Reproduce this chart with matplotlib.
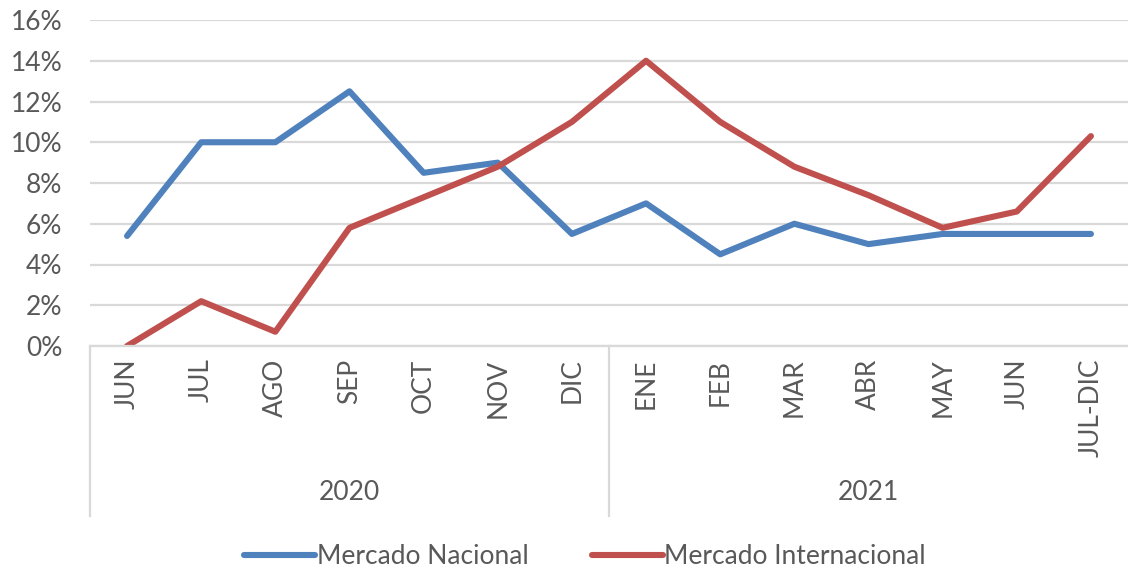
import matplotlib.pyplot as plt
from matplotlib.ticker import FuncFormatter
import matplotlib.transforms as mtransforms

# datos
meses = ["JUN", "JUL", "AGO", "SEP", "OCT", "NOV", "DIC",
         "ENE", "FEB", "MAR", "ABR", "MAY", "JUN", "JUL-DIC"]
anios = ["2020", "2021"]
meses_por_anio = [7, 7]
nacional = [5.4, 10.0, 10.0, 12.5, 8.5, 9.0, 5.5, 7.0, 4.5, 6.0, 5.0, 5.5, 5.5, 5.5]
internacional = [0.0, 2.2, 0.7, 5.8, 7.3, 8.8, 11.0, 14.0, 11.0, 8.8, 7.4, 5.8, 6.6, 10.3]

plt.rcParams['font.family'] = ['Lato', 'DejaVu Sans']
gris = '#595959'
fs = 19

fig = plt.figure(figsize=(11.28, 5.72), dpi=100)
ax = fig.add_axes([90/1128, 1-346/572, 1038/1128, 326/572])

x = list(range(len(meses)))
ax.plot(x, nacional, color='#4F81BD', lw=4.4, solid_capstyle='round', label='Mercado Nacional', clip_on=False)
ax.plot(x, internacional, color='#C0504D', lw=4.4, solid_capstyle='round', label='Mercado Internacional')

ax.set_ylim(0, 16)
ax.set_xlim(-0.5, len(meses) - 0.5)
ax.set_yticks(range(0, 17, 2))
ax.yaxis.set_major_formatter(FuncFormatter(lambda v, p: f"{int(v)}%"))
ax.tick_params(axis='y', length=0, pad=20, labelsize=fs, labelcolor=gris)
ax.grid(axis='y', color='#D9D9D9', lw=1.6)
ax.set_axisbelow(True)
for s in ax.spines.values():
    s.set_visible(False)

# eje de categorias en dos niveles
ax.set_xticks(x)
ax.set_xticklabels(meses, rotation=90, va='top', ha='center', fontsize=fs, color=gris)
ax.tick_params(axis='x', length=0, pad=9)
ax.axhline(0, color='#D9D9D9', lw=1.6, clip_on=False)

trans = mtransforms.blended_transform_factory(ax.transData, fig.transFigure)
y_fondo = 1 - 516/572
inicio = 0
bordes = [-0.5]
for anio, n in zip(anios, meses_por_anio):
    centro = inicio + (n - 1) / 2
    ax.text(centro, 1 - 493/572, anio, transform=trans, ha='center', va='center', fontsize=fs, color=gris)
    inicio += n
    bordes.append(inicio - 0.5)
for b in bordes[:-1]:
    ax.plot([b, b], [1 - 346/572, y_fondo], transform=trans, color='#D9D9D9', lw=1.6, clip_on=False)

leg = fig.legend(loc='center', bbox_to_anchor=(585/1128, 1 - 557/572), ncol=2, frameon=False,
                 fontsize=fs, handlelength=2.7, handletextpad=0.05, columnspacing=2.4)
for t in leg.get_texts():
    t.set_color(gris)

fig.savefig('out.png', dpi=100)
